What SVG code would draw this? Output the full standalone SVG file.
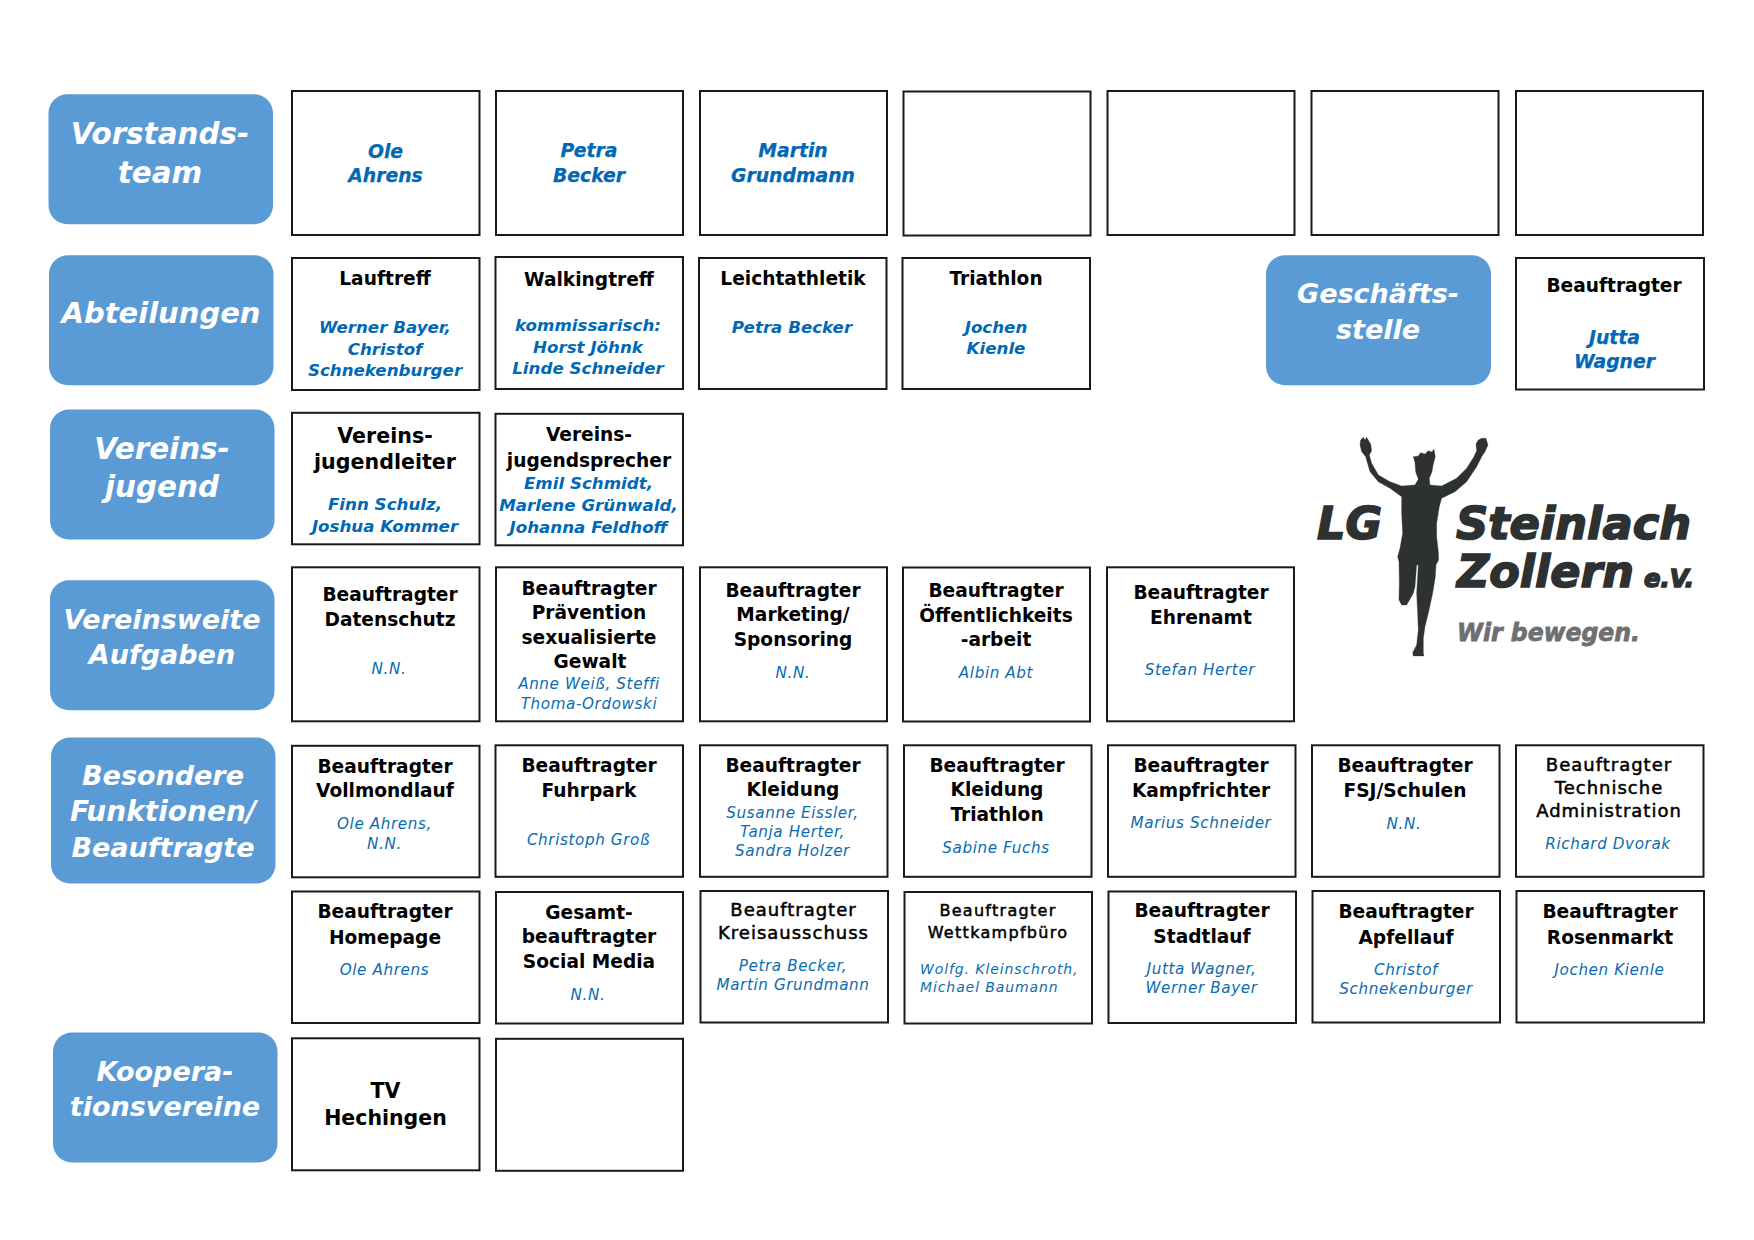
<svg xmlns="http://www.w3.org/2000/svg" width="1754" height="1240" viewBox="0 0 1754 1240">
<style>
text{font-family:"DejaVu Sans","Liberation Sans",sans-serif;text-anchor:middle}
.b{fill:#5b9bd5;stroke:none}
.r{fill:#fff;stroke:#1a1a1a;stroke-width:2}
.t{fill:#fff;font-weight:700;font-style:italic;font-size:29.4px}
.s{font-size:27px}
.h{fill:#000;font-weight:700;font-size:18.6px}
.m{fill:#000;font-weight:400;font-size:18px;letter-spacing:1px;stroke:#000;stroke-width:.5px}
.w{font-size:16px;letter-spacing:1.3px}
.nb{fill:#0068b5;font-weight:700;font-style:italic;font-size:18.8px;stroke:#0068b5;stroke-width:.25px}
.ns{fill:#0068b5;font-weight:700;font-style:italic;font-size:16.7px}
.n{fill:#0a6cb0;font-style:italic;font-size:15.2px;letter-spacing:.6px}
.f{font-size:14px;letter-spacing:.9px;text-anchor:start}
.l{fill:#2e3131;stroke:#2e3131;stroke-width:1.6px;font-weight:700;font-style:italic;text-anchor:start}
</style>
<rect width="1754" height="1240" fill="#fff"/>
<g id="connectors"/>
<g id="label-vorstand"><rect class="b" x="48.5" y="94.300" width="224.500" height="130" rx="19"/><text class="t" x="160" y="144">Vorstands-</text><text class="t" x="160" y="182.500">team</text></g>
<g id="label-abteilungen"><rect class="b" x="49" y="255.300" width="224.500" height="130" rx="19"/><text class="t" style="font-size:29px" x="161" y="322.500">Abteilungen</text></g>
<g id="label-jugend"><rect class="b" x="50" y="409.500" width="224.500" height="130" rx="19"/><text class="t" x="162" y="459">Vereins-</text><text class="t" x="162" y="497">jugend</text></g>
<g id="label-aufgaben"><rect class="b" x="50" y="580.300" width="224.500" height="130" rx="19"/><text class="t s" x="162" y="628.500">Vereinsweite</text><text class="t s" x="162" y="663.500">Aufgaben</text></g>
<g id="label-besondere"><rect class="b" x="51" y="737.500" width="224.500" height="146" rx="19"/><text class="t s" x="163" y="785">Besondere</text><text class="t s" style="font-size:28px" x="163" y="821">Funktionen/</text><text class="t s" x="163" y="856.500">Beauftragte</text></g>
<g id="label-kooperation"><rect class="b" x="53" y="1032.500" width="224.500" height="130" rx="19"/><text class="t s" x="165" y="1081">Koopera-</text><text class="t s" x="165" y="1115.500">tionsvereine</text></g>
<g id="label-geschaeft"><rect class="b" x="1266" y="255.300" width="225" height="130" rx="19"/><text class="t s" x="1378" y="303">Geschäfts-</text><text class="t s" x="1378" y="339">stelle</text></g>

<g id="v1"><rect class="r" x="292" y="91" width="187.500" height="144"/><text class="nb" x="385.500" y="158">Ole</text><text class="nb" x="385.500" y="182">Ahrens</text></g>
<g id="v2"><rect class="r" x="496" y="91" width="187" height="144"/><text class="nb" x="589" y="157">Petra</text><text class="nb" x="589" y="182">Becker</text></g>
<g id="v3"><rect class="r" x="700" y="91" width="187" height="144"/><text class="nb" x="793" y="157">Martin</text><text class="nb" x="793" y="182">Grundmann</text></g>
<g id="v4"><rect class="r" x="903.500" y="91.500" width="187" height="144"/></g>
<g id="v5"><rect class="r" x="1107.500" y="91" width="187" height="144"/></g>
<g id="v6"><rect class="r" x="1311.500" y="91" width="187" height="144"/></g>
<g id="v7"><rect class="r" x="1516" y="91" width="187" height="144"/></g>

<g id="a1"><rect class="r" x="292" y="258" width="187.500" height="132"/><text class="h" x="385" y="285">Lauftreff</text><text class="ns" x="385" y="333">Werner Bayer,</text><text class="ns" x="385" y="355">Christof</text><text class="ns" x="385" y="376">Schnekenburger</text></g>
<g id="a2"><rect class="r" x="495.500" y="257" width="187.500" height="132"/><text class="h" x="589" y="286">Walkingtreff</text><text class="ns" x="588" y="331">kommissarisch:</text><text class="ns" x="588" y="353">Horst Jöhnk</text><text class="ns" x="588" y="374">Linde Schneider</text></g>
<g id="a3"><rect class="r" x="699" y="258" width="187.500" height="131"/><text class="h" x="793" y="285">Leichtathletik</text><text class="ns" x="792" y="333">Petra Becker</text></g>
<g id="a4"><rect class="r" x="902.500" y="258" width="187.500" height="131"/><text class="h" x="996" y="285">Triathlon</text><text class="ns" x="996" y="333">Jochen</text><text class="ns" x="996" y="354">Kienle</text></g>
<g id="a5"><rect class="r" x="1516" y="258" width="188" height="131.500"/><text class="h" x="1614" y="292">Beauftragter</text><text class="nb" x="1614.500" y="344">Jutta</text><text class="nb" x="1614.500" y="368">Wagner</text></g>

<g id="j1"><rect class="r" x="292" y="412.800" width="187.500" height="131.500"/><text class="h" style="font-size:20.600px" x="385" y="442.500">Vereins-</text><text class="h" style="font-size:20.600px" x="385" y="469">jugendleiter</text><text class="ns" x="385" y="510">Finn Schulz,</text><text class="ns" x="385" y="532">Joshua Kommer</text></g>
<g id="j2"><rect class="r" x="495.500" y="413.800" width="187.500" height="131.500"/><text class="h" x="589" y="441">Vereins-</text><text class="h" x="589" y="466.500">jugendsprecher</text><text class="ns" x="588.500" y="488.500">Emil Schmidt,</text><text class="ns" x="588.500" y="510.500">Marlene Grünwald,</text><text class="ns" x="588.500" y="532.500">Johanna Feldhoff</text></g>

<g id="w1"><rect class="r" x="292" y="567.300" width="187.500" height="154"/><text class="h" x="390" y="601">Beauftragter</text><text class="h" x="390" y="626">Datenschutz</text><text class="n" x="389" y="673.500">N.N.</text></g>
<g id="w2"><rect class="r" x="496" y="567.300" width="187" height="154"/><text class="h" x="589" y="595">Beauftragter</text><text class="h" x="589" y="619">Prävention</text><text class="h" x="589" y="644">sexualisierte</text><text class="h" x="590" y="668">Gewalt</text><text class="n" x="589" y="688.500">Anne Weiß, Steffi</text><text class="n" x="589" y="708.500">Thoma-Ordowski</text></g>
<g id="w3"><rect class="r" x="700" y="567.300" width="187" height="154"/><text class="h" x="793" y="597">Beauftragter</text><text class="h" x="793" y="621">Marketing/</text><text class="h" x="793" y="646">Sponsoring</text><text class="n" x="793" y="677.500">N.N.</text></g>
<g id="w4"><rect class="r" x="903" y="567.500" width="187" height="154"/><text class="h" x="996" y="597">Beauftragter</text><text class="h" x="996" y="622">Öffentlichkeits</text><text class="h" x="996" y="646">-arbeit</text><text class="n" x="996" y="678">Albin Abt</text></g>
<g id="w5"><rect class="r" x="1107" y="567.300" width="187" height="154"/><text class="h" x="1201" y="599">Beauftragter</text><text class="h" x="1201" y="624">Ehrenamt</text><text class="n" x="1200" y="674.500">Stefan Herter</text></g>

<g id="b1"><rect class="r" x="292" y="745.800" width="187.500" height="131.500"/><text class="h" x="385" y="773">Beauftragter</text><text class="h" x="385" y="797">Vollmondlauf</text><text class="n" x="384.500" y="829">Ole Ahrens,</text><text class="n" x="384.500" y="849">N.N.</text></g>
<g id="b2"><rect class="r" x="495.500" y="745.300" width="187.500" height="131.500"/><text class="h" x="589" y="772">Beauftragter</text><text class="h" x="589" y="797">Fuhrpark</text><text class="n" x="588.500" y="845">Christoph Groß</text></g>
<g id="b3"><rect class="r" x="700" y="745.300" width="187.500" height="131.500"/><text class="h" x="793" y="772">Beauftragter</text><text class="h" x="793" y="796">Kleidung</text><text class="n" x="792.500" y="818">Susanne Eissler,</text><text class="n" x="792.500" y="837">Tanja Herter,</text><text class="n" x="792.500" y="856">Sandra Holzer</text></g>
<g id="b4"><rect class="r" x="904" y="745.300" width="187.500" height="131.500"/><text class="h" x="997" y="772">Beauftragter</text><text class="h" x="997" y="796">Kleidung</text><text class="h" x="997" y="821">Triathlon</text><text class="n" x="996" y="853">Sabine Fuchs</text></g>
<g id="b5"><rect class="r" x="1108" y="745.300" width="187.500" height="131.500"/><text class="h" x="1201" y="772">Beauftragter</text><text class="h" x="1201" y="796.500">Kampfrichter</text><text class="n" x="1201" y="828">Marius Schneider</text></g>
<g id="b6"><rect class="r" x="1312" y="745.300" width="187.500" height="131.500"/><text class="h" x="1405" y="772">Beauftragter</text><text class="h" x="1405" y="797">FSJ/Schulen</text><text class="n" x="1404" y="829">N.N.</text></g>
<g id="b7"><rect class="r" x="1516" y="745.300" width="187.500" height="131.500"/><text class="m" x="1609" y="771">Beauftragter</text><text class="m" x="1609" y="794">Technische</text><text class="m" x="1609" y="817">Administration</text><text class="n" x="1608" y="849">Richard Dvorak</text></g>

<g id="c1"><rect class="r" x="292" y="891.500" width="187.500" height="131.500"/><text class="h" x="385" y="918">Beauftragter</text><text class="h" x="385" y="943.500">Homepage</text><text class="n" x="384.500" y="975">Ole Ahrens</text></g>
<g id="c2"><rect class="r" x="496" y="892" width="187" height="131.500"/><text class="h" x="589" y="919">Gesamt-</text><text class="h" x="589" y="943">beauftragter</text><text class="h" x="589" y="968">Social Media</text><text class="n" x="588" y="1000">N.N.</text></g>
<g id="c3"><rect class="r" x="700.500" y="891" width="187.500" height="131.500"/><text class="m" x="793.500" y="916">Beauftragter</text><text class="m" x="793.500" y="939">Kreisausschuss</text><text class="n" x="793" y="971">Petra Becker,</text><text class="n" x="793" y="990">Martin Grundmann</text></g>
<g id="c4"><rect class="r" x="904.500" y="892" width="187.500" height="131.500"/><text class="m w" x="998" y="916">Beauftragter</text><text class="m w" x="998" y="938">Wettkampfbüro</text><text class="n f" x="920" y="974">Wolfg. Kleinschroth,</text><text class="n f" x="920" y="992">Michael Baumann</text></g>
<g id="c5"><rect class="r" x="1108.500" y="891.500" width="187.500" height="131.500"/><text class="h" x="1202" y="917">Beauftragter</text><text class="h" x="1202" y="942.500">Stadtlauf</text><text class="n" x="1201.500" y="974">Jutta Wagner,</text><text class="n" x="1201.500" y="992.500">Werner Bayer</text></g>
<g id="c6"><rect class="r" x="1312.500" y="891" width="187.500" height="131.500"/><text class="h" x="1406" y="918">Beauftragter</text><text class="h" x="1406" y="943.500">Apfellauf</text><text class="n" x="1406" y="975">Christof</text><text class="n" x="1406" y="993.500">Schnekenburger</text></g>
<g id="c7"><rect class="r" x="1516.500" y="891" width="187.500" height="131.500"/><text class="h" x="1610" y="918">Beauftragter</text><text class="h" x="1610" y="943.500">Rosenmarkt</text><text class="n" x="1609.500" y="975">Jochen Kienle</text></g>

<g id="k1"><rect class="r" x="292" y="1038.300" width="187.500" height="132"/><text class="h" style="font-size:20.500px" x="385.500" y="1097.500">TV</text><text class="h" style="font-size:20.500px" x="385.500" y="1124.500">Hechingen</text></g>
<g id="k2"><rect class="r" x="496" y="1038.800" width="187" height="132"/></g>

<g id="logo">
<path fill="#2e3131" stroke="#2e3131" stroke-linejoin="round" transform="translate(1250 240) scale(.3333)" d="M332 600L340 592L345 600L350 592L356 602L362 612L365 632L358 645L365 670L385 705L420 725L455 738L495 735L505 718L497 695L495 668L490 650L505 648L512 638L525 642L535 632L545 636L552 628L556 650L550 672L546 695L538 715L540 735L575 738L620 715L650 685L672 650L680 632L678 612L685 600L695 595L708 595L714 615L705 635L695 650L680 680L650 725L615 755L575 775L568 800L560 850L560 890L565 935L566 960L558 975L556 1010L548 1060L535 1120L525 1160L520 1195L520 1240L522 1248L490 1248L488 1238L500 1215L505 1170L503 1120L500 1060L505 975L500 975L495 1040L490 1060L470 1095L455 1095L447 1080L448 1030L447 965L443 950L450 925L458 880L455 820L455 770L420 745L385 725L360 695L347 650L335 635L330 615Z"/>
<text class="l" style="font-size:44px" x="1317" y="539" textLength="65" lengthAdjust="spacingAndGlyphs">LG</text>
<text class="l" style="font-size:44px" x="1456" y="539" textLength="235" lengthAdjust="spacingAndGlyphs">Steinlach</text>
<text class="l" style="font-size:44px" x="1457" y="587" textLength="177" lengthAdjust="spacingAndGlyphs">Zollern</text>
<text class="l" style="font-size:25px" x="1644" y="587" textLength="50" lengthAdjust="spacingAndGlyphs">e.V.</text>
<text class="l" style="font-size:24px;fill:#6e6f71;stroke:#6e6f71;stroke-width:.8px" x="1457" y="641" textLength="183" lengthAdjust="spacingAndGlyphs">Wir bewegen.</text>
</g>
</svg>
